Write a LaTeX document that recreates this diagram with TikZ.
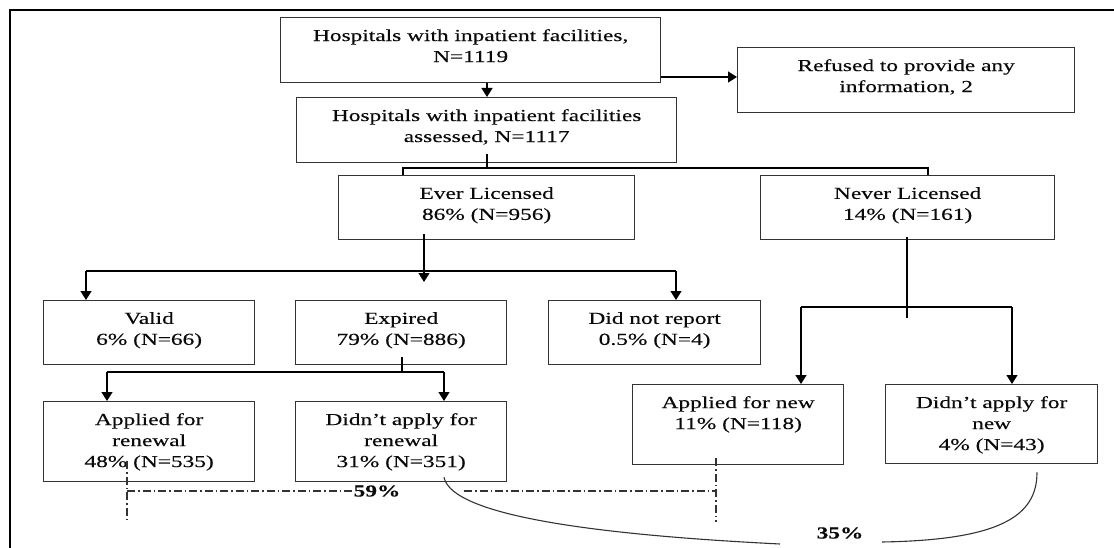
\documentclass[tikz,border=0pt]{standalone}
\usepackage{fontspec}
\setmainfont{Liberation Serif}[FakeStretch=1.39,FakeBold=0.35]
\usetikzlibrary{arrows.meta,calc}
\definecolor{boxc}{HTML}{333333}
\definecolor{txtc}{HTML}{0A0A0A}
\tikzset{
  fbox/.style={draw=boxc, line width=1.3pt, inner sep=0pt, anchor=north west},
  txt/.style={align=center, inner sep=0pt, anchor=north, text=txtc, font=\fontsize{16.8}{21}\selectfont},
  conn/.style={draw=black, line width=1.3pt},
  arr/.style={conn, -{Triangle[width=11pt,length=9pt]}},
  dd/.style={draw=boxc, line width=1.2pt, dash pattern=on 8pt off 3pt on 1.5pt off 3pt},
  crv/.style={draw=boxc, line width=1.1pt},
  pct/.style={inner sep=1pt, font=\fontsize{16.8}{21}\selectfont\bfseries, text=txtc},
  frame/.style={draw=black, line width=2.6pt},
}
\begin{document}
\begin{tikzpicture}[x=1pt,y=-1pt]
\useasboundingbox (0,0) rectangle (1114,548);
\draw[frame] (10,548) -- (10,10) -- (1114,10);

% boxes
\node[fbox, minimum width=380pt, minimum height=65pt] (b1) at (280,17) {};
\node[txt] (b1t) at ([yshift=-12pt]b1.north) {Hospitals with inpatient facilities,\\N=1119};
\node[fbox, minimum width=337pt, minimum height=65pt] (ref) at (737,47) {};
\node[txt] (reft) at ([yshift=-12pt]ref.north) {Refused to provide any\\information, 2};
\node[fbox, minimum width=380pt, minimum height=65pt] (b2) at (296,97) {};
\node[txt] (b2t) at ([yshift=-12pt]b2.north) {Hospitals with inpatient facilities\\assessed, N=1117};
\node[fbox, minimum width=296pt, minimum height=64pt] (ever) at (338,175) {};
\node[txt] (evert) at ([yshift=-12pt]ever.north) {Ever Licensed\\86\% (N=956)};
\node[fbox, minimum width=294pt, minimum height=64pt] (never) at (760,175) {};
\node[txt] (nevert) at ([yshift=-12pt]never.north) {Never Licensed\\14\% (N=161)};
\node[fbox, minimum width=211pt, minimum height=64pt] (valid) at (43,300) {};
\node[txt] (validt) at ([yshift=-12pt]valid.north) {Valid\\6\% (N=66)};
\node[fbox, minimum width=211pt, minimum height=64pt] (expired) at (295,300) {};
\node[txt] (expiredt) at ([yshift=-12pt]expired.north) {Expired\\79\% (N=886)};
\node[fbox, minimum width=212pt, minimum height=64pt] (dnr) at (548,300) {};
\node[txt] (dnrt) at ([yshift=-12pt]dnr.north) {Did not report\\0.5\% (N=4)};
\node[fbox, minimum width=211pt, minimum height=80pt] (appren) at (43,401) {};
\node[txt] (apprent) at ([yshift=-12pt]appren.north) {Applied for\\renewal\\48\% (N=535)};
\node[fbox, minimum width=211pt, minimum height=80pt] (didren) at (295,401) {};
\node[txt] (didrent) at ([yshift=-12pt]didren.north) {Didn’t apply for\\renewal\\31\% (N=351)};
\node[fbox, minimum width=211pt, minimum height=80pt] (appnew) at (632,384) {};
\node[txt] (appnewt) at ([yshift=-12pt]appnew.north) {Applied for new\\11\% (N=118)};
\node[fbox, minimum width=212pt, minimum height=79pt] (didnew) at (885,384) {};
\node[txt] (didnewt) at ([yshift=-12pt]didnew.north) {Didn’t apply for\\new\\4\% (N=43)};

% percentage labels
\node[pct] (p59) at (377,491) {59\%};
\node[pct] (p35) at (840,533) {35\%};

% top connectors
\coordinate (j1) at (487,168);
\coordinate (jL) at (403,168);
\coordinate (jR) at (928,168);
\coordinate (r1) at (0,77);
\draw[arr] (b1.south -| j1) -- (b2.north -| j1);
\draw[arr] (b1.east |- r1) -- (ref.west |- r1);
\draw[conn] ($(b2.south -| j1)+(0,-9)$) -- (j1);
\draw[conn] (ever.north -| jL) -- (jL) -- (jR) -- (never.north -| jR);

% ever licensed split
\coordinate (e1) at (424,271);
\coordinate (eL) at (86,271);
\coordinate (eR) at (676,271);
\draw[arr] ($(ever.south -| e1)+(0,-6)$) -- ($(e1)+(0,11)$);
\draw[conn] (eL) -- (eR);
\draw[arr] (eL) -- (valid.north -| eL);
\draw[arr] (eR) -- (dnr.north -| eR);

% expired split
\coordinate (x1) at (402,372);
\coordinate (xL) at (107,372);
\coordinate (xR) at (444,372);
\draw[conn] ($(expired.south -| x1)+(0,-8)$) -- (x1);
\draw[conn] (xL) -- (xR);
\draw[arr] (xL) -- (appren.north -| xL);
\draw[arr] (xR) -- (didren.north -| xR);

% never licensed split
\coordinate (n1) at (907,307);
\coordinate (nL) at (801,307);
\coordinate (nR) at (1012,307);
\draw[conn] ($(never.south -| n1)+(0,-3)$) -- ($(n1)+(0,11)$);
\draw[conn] (nL) -- (nR);
\draw[arr] (nL) -- (appnew.north -| nL);
\draw[arr] (nR) -- (didnew.north -| nR);

% dash-dot bracket (59%)
\coordinate (d1) at (127,491);
\coordinate (d2) at (716,491);
\coordinate (d3) at (464,491);
\draw[dd] ($(appren.south -| d1)+(0,-21)$) -- ($(d1)+(0,31)$);
\draw[dd] (d1) -- (p59.west);
\draw[dd] (d3) -- (d2);
\draw[dd] ($(appnew.south -| d2)+(0,-7)$) -- ($(d2)+(0,31)$);

% curves (35%)
\coordinate (c1) at (780,544);
\coordinate (c2) at (882,542);
\coordinate (c3) at (1037,0);
\draw[crv] ($(didren.south -| xR)+(0,-5)$) .. controls +(8,39) and +(-180,-9) .. (c1);
\draw[crv] (c2) .. controls +(118,-2) and +(0,44) .. ($(didnew.south -| c3)+(0,8)$);
\end{tikzpicture}
\end{document}
